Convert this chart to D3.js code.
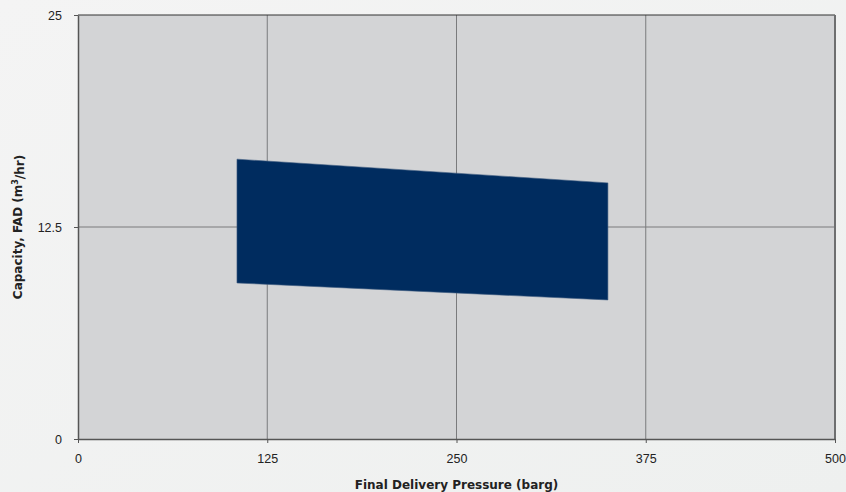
<!DOCTYPE html>
<html>
<head>
<meta charset="utf-8">
<script src="https://cdn.jsdelivr.net/npm/d3@7"></script>
<style>
  body { margin: 0; background: #f1f2f2; }
  svg { display: block; font-family: "DejaVu Sans", Verdana, sans-serif; }
</style>
</head>
<body>
<svg id="chart" width="846" height="492"></svg>
<script>
const WIDTH = 846;
const HEIGHT = 492;

// operating envelope (pressure in barg, capacity in m3/hr)
const envelopePressure = [105, 350, 350, 105];
const envelopeCapacity = [16.5, 15.1, 8.2, 9.2];

const xTicks = [0, 125, 250, 375, 500];
const yTicks = [0, 12.5, 25];

const X_TITLE = "Final Delivery Pressure (barg)";

const margin = {left: 78, right: 11, top: 15, bottom: 53};

var svg = d3.select("#chart");

var defs = svg.append("defs");
var grad = defs.append("linearGradient")
    .attr("id", "bg")
    .attr("x1", 0).attr("y1", 0).attr("x2", 1).attr("y2", 1);
grad.append("stop").attr("offset", "0%").attr("stop-color", "#f4f4f4");
grad.append("stop").attr("offset", "100%").attr("stop-color", "#eef0ef");

svg.append("rect")
    .attr("width", WIDTH).attr("height", HEIGHT)
    .attr("fill", "url(#bg)");

var x = d3.scaleLinear()
    .domain([0, 500])
    .range([margin.left, WIDTH - margin.right]);

var y = d3.scaleLinear()
    .domain([0, 25])
    .range([HEIGHT - margin.bottom, margin.top]);

// plot background
svg.append("rect")
    .attr("x", x(0)).attr("y", y(25))
    .attr("width", x(500) - x(0))
    .attr("height", y(0) - y(25))
    .attr("fill", "#d3d4d6");

// grid lines
svg.append("g")
    .selectAll("line")
    .data(xTicks.slice(1, -1))
    .enter()
    .append("line")
    .attr("x1", d=>x(d)).attr("x2", d=>x(d))
    .attr("y1", y(25)).attr("y2", y(0))
    .attr("stroke", "#7a7b7d")
    .attr("stroke-width", 1);

svg.append("g")
    .selectAll("line")
    .data(yTicks.slice(1, -1))
    .enter()
    .append("line")
    .attr("x1", x(0)).attr("x2", x(500))
    .attr("y1", d=>y(d)).attr("y2", d=>y(d))
    .attr("stroke", "#7a7b7d")
    .attr("stroke-width", 1);

// envelope polygon
var pts = envelopePressure.map((p, i)=>[x(p), y(envelopeCapacity[i])]);
svg.append("path")
    .attr("d", d3.line()(pts) + "Z")
    .attr("fill", "#002c5f")
    .attr("stroke", "#3c5a80")
    .attr("stroke-width", 0.6);

// frame
svg.append("line") // top
    .attr("x1", x(0)).attr("x2", x(500))
    .attr("y1", y(25)).attr("y2", y(25))
    .attr("stroke", "#333").attr("stroke-width", 1.2);
svg.append("line") // right
    .attr("x1", x(500)).attr("x2", x(500))
    .attr("y1", y(25)).attr("y2", y(0))
    .attr("stroke", "#6e6f70").attr("stroke-width", 2);

// axes
var xAxis = d3.axisBottom(x)
    .tickValues(xTicks)
    .tickFormat(d3.format("d"))
    .tickSizeInner(4).tickSizeOuter(0)
    .tickPadding(6);

var yAxis = d3.axisLeft(y)
    .tickValues(yTicks)
    .tickFormat(d=>String(d))
    .tickSizeInner(4).tickSizeOuter(0)
    .tickPadding(12);

var gx = svg.append("g")
    .attr("transform", "translate(0," + y(0) + ")")
    .call(xAxis);
var gy = svg.append("g")
    .attr("transform", "translate(" + x(0) + ",0)")
    .call(yAxis);

[gx, gy].forEach(g=>{
    g.select(".domain").attr("stroke", "#555").attr("stroke-width", 1.5);
    g.selectAll(".tick line").attr("stroke", "#555");
    g.selectAll(".tick text")
        .attr("fill", "#222")
        .style("font-size", "12.5px");
});
gx.selectAll(".tick text").attr("dy", "1.1em");

// axis titles
svg.append("text")
    .attr("x", x(250)).attr("y", 489)
    .attr("text-anchor", "middle")
    .attr("fill", "#222")
    .style("font-size", "12px")
    .style("font-weight", "bold")
    .text(X_TITLE);

var yTitle = svg.append("text")
    .attr("transform", "translate(22," + y(12.5) + ") rotate(-90)")
    .attr("text-anchor", "middle")
    .attr("fill", "#222")
    .style("font-size", "12px")
    .style("font-weight", "bold");
yTitle.append("tspan").text("Capacity, FAD (m");
yTitle.append("tspan").attr("dy", "-0.45em").style("font-size", "8px").text("3");
yTitle.append("tspan").attr("dy", "0.45em").text("/hr)");
</script>
</body>
</html>
